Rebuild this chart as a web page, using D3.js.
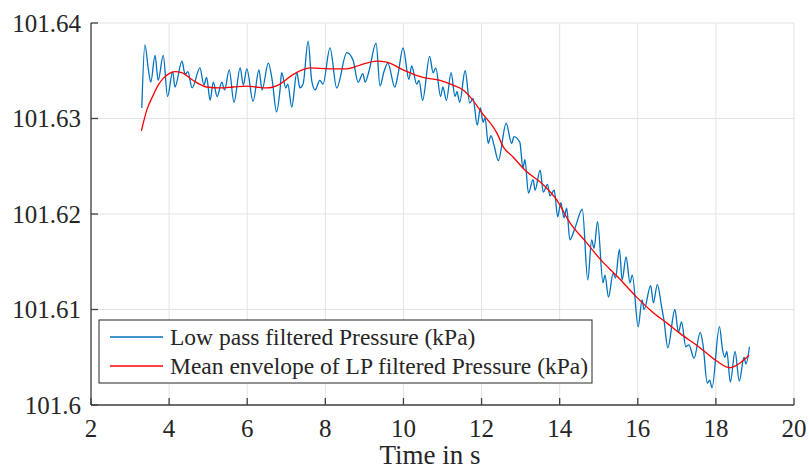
<html>
<head>
  <meta charset="utf-8">
  <title>Pressure</title>
  <script src="https://d3js.org/d3.v7.min.js"></script>
  <style>
    body {
      margin: 0;
      padding: 0;
      background: #fff;
    }
    text {
      font-family: "Liberation Serif", "Times New Roman", serif;
      fill: #262626;
    }
    .grid line {
      stroke: #e3e3e3;
      stroke-width: 1;
    }
    .axis-line {
      stroke: #404040;
      stroke-width: 1.3;
    }
    .tick-mark {
      stroke: #404040;
      stroke-width: 1.3;
    }
  </style>
</head>
<body>
<div id="chart"></div>
<script>

// low pass filtered pressure (time in s, kPa)
var lpTime = [3.30, 3.38, 3.47, 3.53, 3.64, 3.72, 3.85, 3.96, 4.09, 4.15,
  4.33, 4.41, 4.48, 4.59, 4.79, 4.89, 4.96, 5.05, 5.13, 5.23,
  5.35, 5.42, 5.54, 5.66, 5.82, 5.90, 5.99, 6.15, 6.30, 6.38,
  6.54, 6.64, 6.75, 6.84, 6.88, 6.99, 7.04, 7.14, 7.27, 7.35,
  7.43, 7.56, 7.65, 7.74, 7.86, 7.94, 8.12, 8.29, 8.55, 8.71,
  8.84, 8.96, 9.02, 9.12, 9.30, 9.40, 9.50, 9.60, 9.78, 9.86,
  9.99, 10.14, 10.21, 10.34, 10.40, 10.49, 10.67, 10.76, 10.83, 10.95,
  11.01, 11.10, 11.22, 11.32, 11.37, 11.44, 11.58, 11.70, 11.78, 11.89,
  11.97, 12.04, 12.09, 12.17, 12.24, 12.32, 12.43, 12.63, 12.77, 12.83,
  12.98, 13.06, 13.11, 13.20, 13.32, 13.37, 13.50, 13.58, 13.69, 13.75,
  13.86, 13.95, 14.03, 14.11, 14.18, 14.26, 14.39, 14.58, 14.72, 14.82,
  14.88, 14.97, 15.11, 15.16, 15.25, 15.37, 15.43, 15.53, 15.60, 15.70,
  15.80, 15.86, 16.01, 16.11, 16.16, 16.33, 16.40, 16.50, 16.61, 16.67,
  16.77, 16.95, 17.04, 17.12, 17.23, 17.31, 17.44, 17.60, 17.67, 17.78,
  17.84, 17.90, 18.09, 18.17, 18.23, 18.28, 18.37, 18.49, 18.60, 18.72,
  18.77, 18.86];

var lpPressure = [101.6311, 101.6377, 101.6351, 101.6338, 101.6366, 101.6340, 101.6366, 101.6323, 101.6349, 101.6333,
  101.6360, 101.6346, 101.6349, 101.6332, 101.6353, 101.6335, 101.6343, 101.6319, 101.6338, 101.6323,
  101.6338, 101.6330, 101.6351, 101.6317, 101.6353, 101.6335, 101.6352, 101.6318, 101.6351, 101.6330,
  101.6358, 101.6340, 101.6307, 101.6330, 101.6348, 101.6332, 101.6336, 101.6312, 101.6348, 101.6332,
  101.6336, 101.6381, 101.6340, 101.6330, 101.6340, 101.6336, 101.6374, 101.6332, 101.6369, 101.6361,
  101.6338, 101.6347, 101.6338, 101.6350, 101.6379, 101.6334, 101.6349, 101.6358, 101.6333, 101.6346,
  101.6374, 101.6341, 101.6355, 101.6336, 101.6340, 101.6319, 101.6365, 101.6348, 101.6353, 101.6323,
  101.6333, 101.6319, 101.6348, 101.6323, 101.6328, 101.6317, 101.6350, 101.6316, 101.6321, 101.6293,
  101.6311, 101.6296, 101.6301, 101.6274, 101.6282, 101.6272, 101.6256, 101.6295, 101.6274, 101.6281,
  101.6275, 101.6248, 101.6257, 101.6222, 101.6236, 101.6225, 101.6246, 101.6223, 101.6231, 101.6219,
  101.6225, 101.6197, 101.6212, 101.6196, 101.6206, 101.6173, 101.6185, 101.6205, 101.6131, 101.6173,
  101.6164, 101.6192, 101.6128, 101.6136, 101.6113, 101.6138, 101.6133, 101.6163, 101.6131, 101.6155,
  101.6128, 101.6136, 101.6082, 101.6110, 101.6100, 101.6125, 101.6107, 101.6126, 101.6103, 101.6089,
  101.6060, 101.6100, 101.6076, 101.6087, 101.6061, 101.6063, 101.6049, 101.6076, 101.6063, 101.6023,
  101.6026, 101.6018, 101.6082, 101.6058, 101.6050, 101.6056, 101.6024, 101.6056, 101.6025, 101.6050,
  101.6043, 101.6061];

// mean envelope of the LP filtered pressure
var envTime = [3.29, 3.43, 3.60, 3.72, 3.85, 4.00, 4.15, 4.32, 4.61, 4.96,
  5.30, 5.64, 5.99, 6.22, 6.50, 6.84, 7.17, 7.61, 8.12, 8.55,
  8.89, 9.32, 9.57, 9.99, 10.50, 10.94, 11.27, 11.52, 11.78, 12.01,
  12.39, 12.56, 12.80, 13.11, 13.57, 13.92, 14.26, 14.69, 15.03, 15.49,
  15.97, 16.36, 16.74, 17.08, 17.59, 18.02, 18.36, 18.62, 18.85];

var envPressure = [101.6287, 101.6309, 101.6325, 101.6335, 101.6342, 101.6347, 101.6349, 101.6348, 101.6340, 101.6333,
  101.6332, 101.6333, 101.6334, 101.6333, 101.6332, 101.6336, 101.6346, 101.6353, 101.6352, 101.6352,
  101.6356, 101.6360, 101.6359, 101.6351, 101.6343, 101.6340, 101.6335, 101.6330, 101.6319, 101.6306,
  101.6285, 101.6270, 101.6260, 101.6246, 101.6231, 101.6215, 101.6191, 101.6170, 101.6153, 101.6134,
  101.6113, 101.6098, 101.6086, 101.6075, 101.6060, 101.6046, 101.6039, 101.6044, 101.6052];

var xTicks = [2, 4, 6, 8, 10, 12, 14, 16, 18, 20];
var yTicks = [101.6, 101.61, 101.62, 101.63, 101.64];
var yTickLabels = ["101.6", "101.61", "101.62", "101.63", "101.64"];

var legendLabels = ["Low pass filtered Pressure (kPa)", "Mean envelope of LP filtered Pressure (kPa)"];
var lineColors = ["#0072bd", "#ff0000"];

var width = 809, height = 465;
var margin = {top: 23, right: 15, bottom: 60, left: 91};

var svg = d3.select("#chart").append("svg")
    .attr("width", width)
    .attr("height", height);

var x = d3.scaleLinear().domain([2, 20]).range([margin.left, width - margin.right]);
var y = d3.scaleLinear().domain([101.6, 101.64]).range([height - margin.bottom, margin.top]);

// grid
var grid = svg.append("g").attr("class", "grid");
grid.selectAll(".gx").data(xTicks).enter().append("line")
    .attr("x1", function(d) { return x(d); })
    .attr("x2", function(d) { return x(d); })
    .attr("y1", y.range()[0])
    .attr("y2", y.range()[1]);
grid.selectAll(".gy").data(yTicks).enter().append("line")
    .attr("x1", x.range()[0])
    .attr("x2", x.range()[1])
    .attr("y1", function(d) { return y(d); })
    .attr("y2", function(d) { return y(d); });

// lines
var lpData = lpTime.map(function(t, i) { return [t, lpPressure[i]]; });
var envData = envTime.map(function(t, i) { return [t, envPressure[i]]; });

var line = d3.line()
    .x(function(d) { return x(d[0]); })
    .y(function(d) { return y(d[1]); })
    .curve(d3.curveMonotoneX);

svg.append("path")
    .datum(lpData)
    .attr("fill", "none")
    .attr("stroke", lineColors[0])
    .attr("stroke-width", 1.3)
    .attr("d", line);

svg.append("path")
    .datum(envData)
    .attr("fill", "none")
    .attr("stroke", lineColors[1])
    .attr("stroke-width", 1.3)
    .attr("d", line);

// axes (left and bottom only, ticks pointing inward)
var y0 = y.range()[0];
var x0 = x.range()[0];

svg.append("line").attr("class", "axis-line")
    .attr("x1", x0).attr("x2", x.range()[1])
    .attr("y1", y0).attr("y2", y0);
svg.append("line").attr("class", "axis-line")
    .attr("x1", x0).attr("x2", x0)
    .attr("y1", y0).attr("y2", y.range()[1]);

svg.selectAll(".xt").data(xTicks).enter().append("line")
    .attr("class", "tick-mark")
    .attr("x1", function(d) { return x(d); })
    .attr("x2", function(d) { return x(d); })
    .attr("y1", y0)
    .attr("y2", y0 - 7);

svg.selectAll(".yt").data(yTicks).enter().append("line")
    .attr("class", "tick-mark")
    .attr("x1", x0)
    .attr("x2", x0 + 7)
    .attr("y1", function(d) { return y(d); })
    .attr("y2", function(d) { return y(d); });

svg.selectAll(".xl").data(xTicks).enter().append("text")
    .attr("x", function(d) { return x(d); })
    .attr("y", y0 + 32)
    .attr("text-anchor", "middle")
    .style("font-size", "25px")
    .text(function(d) { return d; });

svg.selectAll(".yl").data(yTicks).enter().append("text")
    .attr("x", x0 - 10)
    .attr("y", function(d) { return y(d) + 8.5; })
    .attr("text-anchor", "end")
    .style("font-size", "25px")
    .text(function(d, i) { return yTickLabels[i]; });

svg.append("text")
    .attr("x", 430)
    .attr("y", 464)
    .attr("text-anchor", "middle")
    .style("font-size", "27px")
    .text("Time in s");

// legend
var legend = svg.append("g").attr("transform", "translate(99,320)");
legend.append("rect")
    .attr("width", 493)
    .attr("height", 63)
    .attr("fill", "#fff")
    .attr("stroke", "#262626")
    .attr("stroke-width", 1);

var rows = legend.selectAll(".row").data(legendLabels).enter().append("g")
    .attr("transform", function(d, i) { return "translate(0," + (17 + i * 29) + ")"; });
rows.append("line")
    .attr("x1", 11).attr("x2", 64)
    .attr("stroke", function(d, i) { return lineColors[i]; })
    .attr("stroke-width", 1.3);
rows.append("text")
    .attr("x", 71)
    .attr("y", 8)
    .style("font-size", "23.5px")
    .text(function(d) { return d; });

</script>
</body>
</html>
